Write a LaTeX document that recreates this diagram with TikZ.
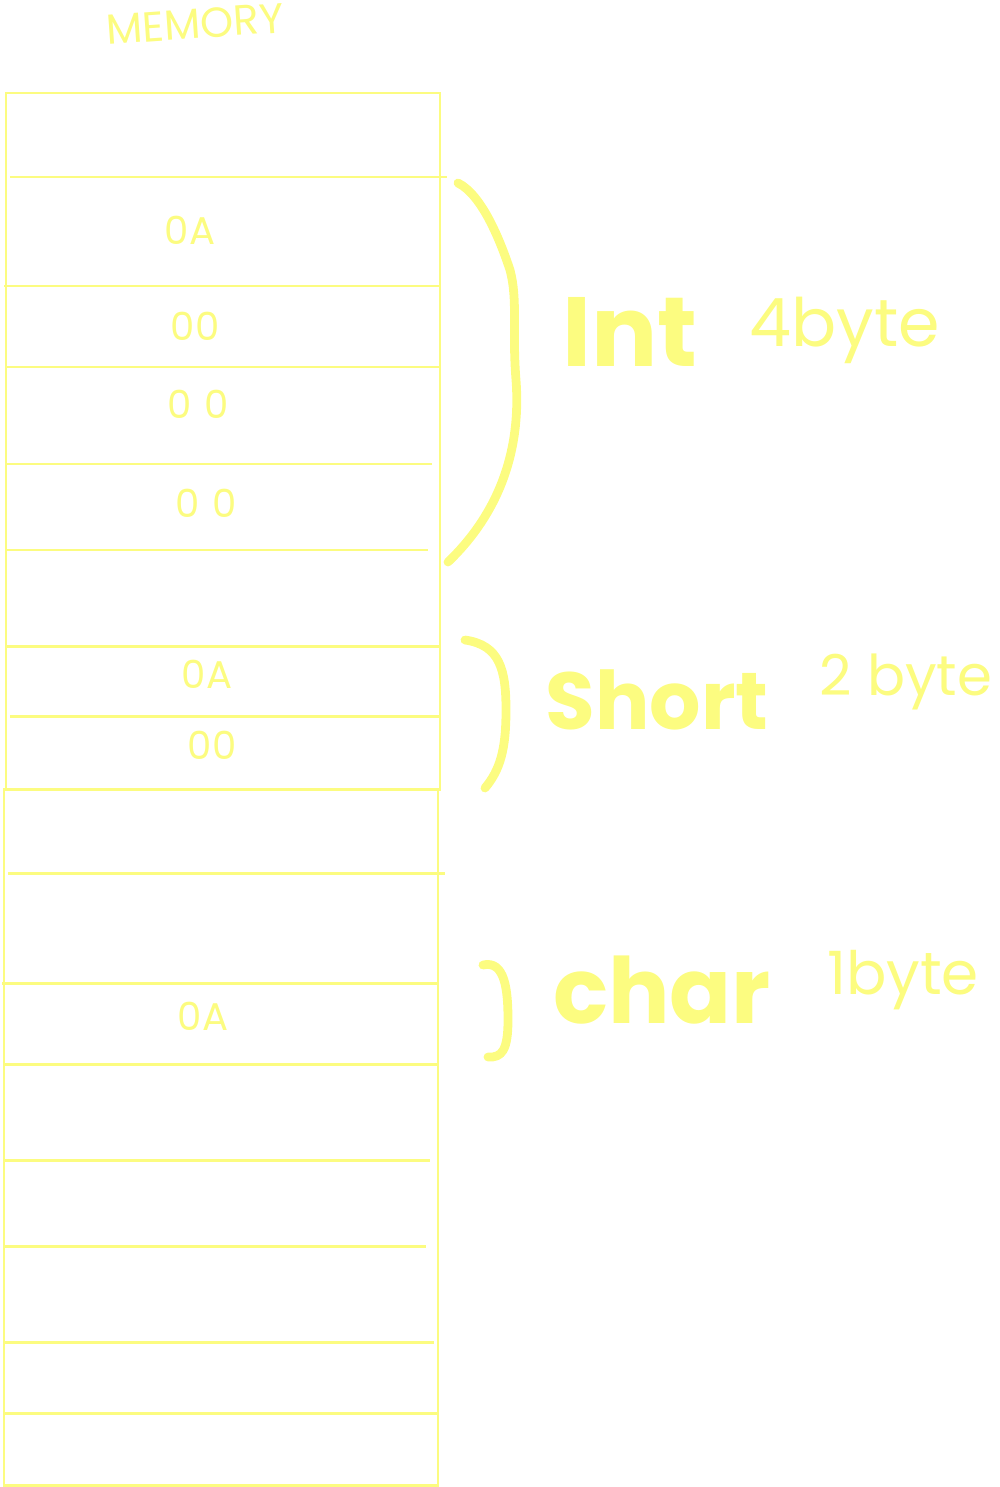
\documentclass[tikz,border=0pt]{standalone}
\usepackage{fontspec}
\newfontfamily\handfont{Poppins}
\definecolor{marker}{RGB}{252,252,128}
\tikzset{
  cell/.style={marker, line width=1.7pt},
  brace/.style={marker, line width=5pt, line cap=round, line join=round},
  hexval/.style={marker, font=\handfont\fontsize{22}{22}\selectfont},
  typename/.style={marker, font=\handfont\bfseries\fontsize{#1}{#1}\selectfont},
  typesize/.style={marker, font=\handfont\fontsize{#1}{#1}\selectfont}
}

\begin{document}
\begin{tikzpicture}[x=0.02cm, y=-0.02cm]
\useasboundingbox (0,0) rectangle (1000,1487);
\node[marker, rotate=4, font=\handfont\fontsize{24}{24}\selectfont] (title) at (195,24){MEMORY};
% upper block
\draw[cell] (6,93) rectangle (440,789);
\draw[cell] (10,177) -- (447,177);
\draw[cell] (4,286) -- (440,286);
\draw[cell] (6,367) -- (440,367);
\draw[cell] (6,464) -- (432,464);
\draw[cell] (6,550) -- (428,550);
\draw[cell] (6,646) -- (440,646);
\draw[cell] (10,716) -- (440,716);
% lower block
\draw[cell] (4,789) rectangle (438,1485);
\draw[cell] (8,873) -- (445,873);
\draw[cell] (2,983) -- (438,983);
\draw[cell] (4,1064) -- (438,1064);
\draw[cell] (4,1160) -- (430,1160);
\draw[cell] (4,1246) -- (426,1246);
\draw[cell] (4,1342) -- (434,1342);
\draw[cell] (4,1413) -- (438,1413);
% cell values
\node[hexval] (intb1) at (190,230){0A};
\node[hexval] (intb2) at (195,326){00};
\node[hexval] (intb3) at (198,404){0\,\,0};
\node[hexval] (intb4) at (206,503){0\,\,0};
\node[hexval] (shortb1) at (207,674){0A};
\node[hexval] (shortb2) at (212,745){00};
\node[hexval] (charb1) at (203,1016){0A};
% braces
\draw[brace] (458,183) .. controls (482,195) and (500,240) .. (510,270)
  .. controls (518,300) and (512,330) .. (516,380)
  .. controls (522,460) and (492,520) .. (448,562);
\draw[brace] (465,640) .. controls (500,645) and (506,670) .. (506,710)
  .. controls (506,750) and (500,770) .. (485,788);
\draw[brace] (483,965) .. controls (505,960) and (508,990) .. (508,1020)
  .. controls (508,1050) and (502,1058) .. (488,1057);
% labels
\node[typename=56] (intname) at (630,332){Int};
\node[typesize=38] (intsize) at (845,330){4byte};
\node[typename=46] (shortname) at (657,700){Short};
\node[typesize=32] (shortsize) at (906,682){2 byte};
\node[typename=52] (charname) at (662,990){char};
\node[typesize=34] (charsize) at (903,980){1byte};
\end{tikzpicture}
\end{document}
